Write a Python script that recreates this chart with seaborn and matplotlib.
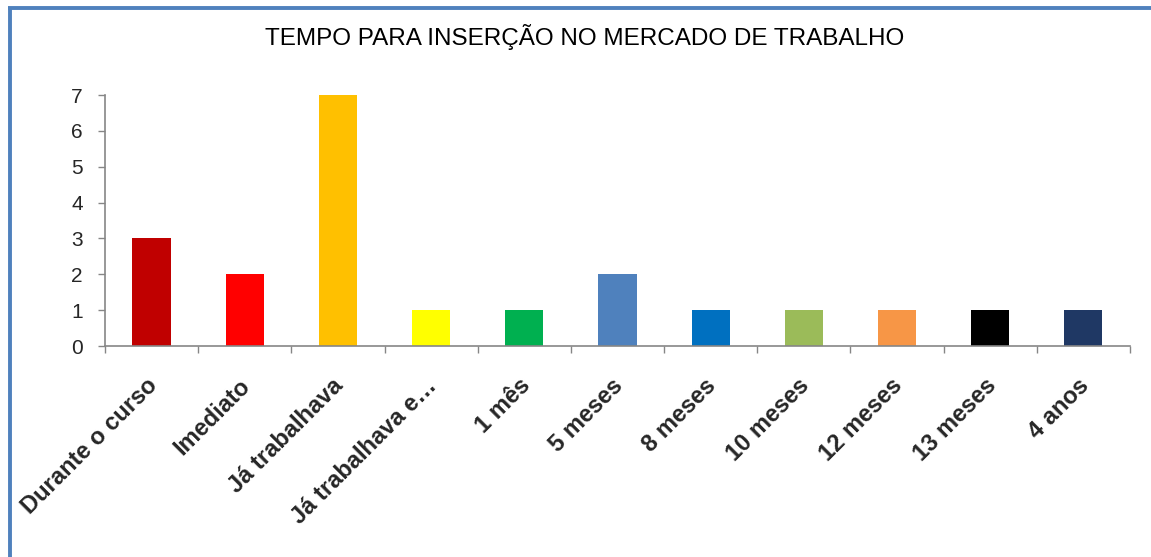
import matplotlib
matplotlib.use('Agg')
import matplotlib.pyplot as plt
import seaborn as sns
from matplotlib.lines import Line2D
from matplotlib.ticker import MultipleLocator, FixedLocator
from matplotlib.transforms import ScaledTranslation

# dados
categorias = ["Durante o curso", "Imediato", "Já trabalhava", "Já trabalhava e…",
              "1 mês", "5 meses", "8 meses", "10 meses", "12 meses", "13 meses", "4 anos"]
valores = [3, 2, 7, 1, 1, 2, 1, 1, 1, 1, 1]
cores = ["#C00000", "#FF0000", "#FFC000", "#FFFF00", "#00B050", "#4F81BD",
         "#0070C0", "#9BBB59", "#F79646", "#000000", "#1F3864"]
titulo = "TEMPO PARA INSERÇÃO NO MERCADO DE TRABALHO"

sns.set_theme(style="white")
plt.rcParams['font.family'] = ['Liberation Sans', 'DejaVu Sans']

fig = plt.figure(figsize=(11.51, 5.57), dpi=100)
ax = fig.add_axes([0.0912, 0.3788, 0.8905, 0.4506])

sns.barplot(x=categorias, y=valores, hue=categorias, palette=cores,
            legend=False, width=0.41, saturation=1, edgecolor="none", ax=ax)

ax.set_ylim(0, 7)
ax.set_xlim(-0.5, len(categorias) - 0.5)
ax.yaxis.set_major_locator(MultipleLocator(1))
ax.set_xlabel("")
ax.set_ylabel("")

cinza = "#868686"
for s in ["top", "right"]:
    ax.spines[s].set_visible(False)
for s in ["left", "bottom"]:
    ax.spines[s].set_color(cinza)
    ax.spines[s].set_linewidth(1.2)

ax.tick_params(axis="y", which="major", left=True, length=5, width=1, color=cinza,
               labelsize=15, pad=11)
ax.tick_params(axis="x", which="major", bottom=False, length=0, pad=21)
ax.xaxis.set_minor_locator(FixedLocator([i - 0.5 for i in range(len(categorias) + 1)]))
ax.tick_params(axis="x", which="minor", bottom=True, length=5, width=1, color=cinza)

ax.set_xticks(range(len(categorias)))
ax.set_xticklabels(categorias, rotation=45, ha="right", rotation_mode="anchor",
                   fontsize=17, fontweight="bold")
desloc = ScaledTranslation(-6 / 100, 1 / 100, fig.dpi_scale_trans)
for lbl in ax.get_xticklabels():
    lbl.set_transform(lbl.get_transform() + desloc)

fig.text(0.508, 0.934, titulo, ha="center", va="center", fontsize=17.5, color="black")

# moldura azul
azul = "#4F81BD"
fig.add_artist(Line2D([0.0083, 0.0083], [0, 0.9865], transform=fig.transFigure,
                      color=azul, linewidth=2.8, solid_capstyle="butt"))
fig.add_artist(Line2D([0.0070, 1.0], [0.9865, 0.9865], transform=fig.transFigure,
                      color=azul, linewidth=2.8, solid_capstyle="butt"))

fig.savefig("out.png", dpi=100, facecolor="white")
